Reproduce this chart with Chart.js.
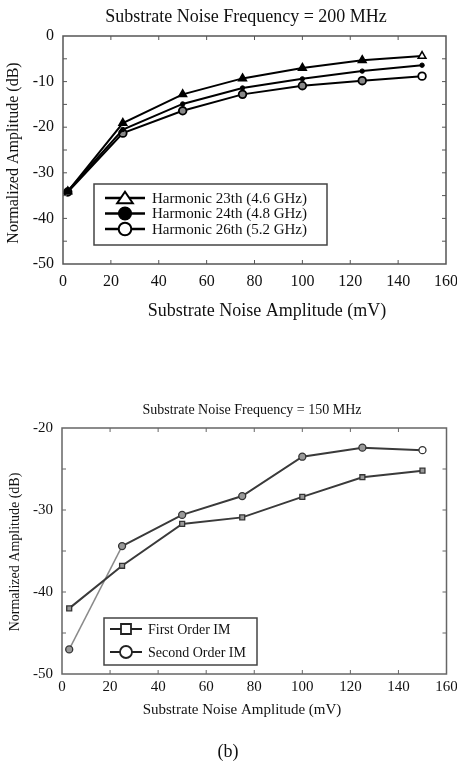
<!DOCTYPE html>
<html>
<head>
<meta charset="utf-8">
<script src="https://cdn.jsdelivr.net/npm/chart.js@4/dist/chart.umd.min.js"></script>
<style>
  html, body { margin: 0; padding: 0; background: #fff; }
  body { width: 457px; height: 767px; position: relative; overflow: hidden; }
  canvas { position: absolute; left: 0; }
  #ca { top: 0; }
  #cb { top: 380px; }
</style>
</head>
<body>
<canvas id="ca" width="457" height="340"></canvas>
<canvas id="cb" width="457" height="387"></canvas>
<script>
// ---------- data ----------
const xTickLabels = [0, 20, 40, 60, 80, 100, 120, 140, 160];

// Chart (a): Substrate Noise Frequency = 200 MHz
const amplitudeA = [2, 25, 50, 75, 100, 125, 150];
const harmonic23 = [-34.1, -19.1, -12.8, -9.3, -7.0, -5.3, -4.4];
const harmonic24 = [-34.0, -20.5, -14.9, -11.4, -9.4, -7.7, -6.4];
const harmonic26 = [-34.2, -21.3, -16.4, -12.8, -10.9, -9.8, -8.8];
const yTickLabelsA = [0, -10, -20, -30, -40, -50];
const seriesNamesA = ['Harmonic 23th (4.6 GHz)', 'Harmonic 24th (4.8 GHz)', 'Harmonic 26th (5.2 GHz)'];

// Chart (b): Substrate Noise Frequency = 150 MHz
const amplitudeB = [3, 25, 50, 75, 100, 125, 150];
const firstOrderIM = [-42.0, -36.8, -31.7, -30.9, -28.4, -26.0, -25.2];
const secondOrderIM = [-47.0, -34.4, -30.6, -28.3, -23.5, -22.4, -22.7];
const yTickLabelsB = [-20, -30, -40, -50];
const seriesNamesB = ['First Order IM', 'Second Order IM'];

const toPoints = (xs, ys) => xs.map((x, i) => ({ x: x, y: ys[i] }));
const SERIF = "'Liberation Serif', 'Times New Roman', serif";

// ---------- helpers ----------
function drawMarker(ctx, style, x, y, r, fill, stroke, lw) {
  ctx.save();
  ctx.lineWidth = lw;
  ctx.strokeStyle = stroke;
  ctx.fillStyle = fill;
  ctx.beginPath();
  if (style === 'triangle') {
    const h = r * 1.9;
    ctx.moveTo(x, y - h * 0.55);
    ctx.lineTo(x + r * 1.3, y + h * 0.45);
    ctx.lineTo(x - r * 1.3, y + h * 0.45);
    ctx.closePath();
  } else if (style === 'rect') {
    ctx.rect(x - r, y - r, 2 * r, 2 * r);
  } else {
    ctx.arc(x, y, r, 0, Math.PI * 2);
  }
  ctx.fill();
  ctx.stroke();
  ctx.restore();
}

function makeDecor(cfg) {
  return {
    id: 'decor_' + cfg.key,
    afterDraw(chart) {
      const ctx = chart.ctx;
      const a = chart.chartArea;
      const xs = chart.scales.x, ys = chart.scales.y;
      ctx.save();
      // frame
      ctx.strokeStyle = cfg.frameColor;
      ctx.lineWidth = 1.5;
      ctx.strokeRect(a.left, a.top, a.right - a.left, a.bottom - a.top);
      // inward tick marks
      ctx.lineWidth = 1;
      ctx.beginPath();
      xs.ticks.forEach(t => {
        const px = xs.getPixelForValue(t.value);
        if (px <= a.left + 1 || px >= a.right - 1) return;
        ctx.moveTo(px, a.bottom); ctx.lineTo(px, a.bottom - 4);
        ctx.moveTo(px, a.top); ctx.lineTo(px, a.top + 4);
      });
      ys.ticks.forEach(t => {
        const py = ys.getPixelForValue(t.value);
        if (py <= a.top + 1 || py >= a.bottom - 1) return;
        ctx.moveTo(a.left, py); ctx.lineTo(a.left + 4, py);
        ctx.moveTo(a.right, py); ctx.lineTo(a.right - 4, py);
      });
      ctx.stroke();

      // texts
      ctx.fillStyle = '#111';
      ctx.textAlign = 'center';
      ctx.textBaseline = 'alphabetic';
      ctx.font = cfg.titleFont;
      ctx.fillText(cfg.title, cfg.titleX, cfg.titleY);
      ctx.font = cfg.xTitleFont;
      ctx.fillText(cfg.xTitle, cfg.xTitleX, cfg.xTitleY);
      ctx.font = cfg.captionFont;
      ctx.textBaseline = 'middle';
      ctx.fillText(cfg.caption, cfg.captionX, cfg.captionY);
      ctx.save();
      ctx.translate(cfg.yTitleX, cfg.yTitleY);
      ctx.rotate(-Math.PI / 2);
      ctx.font = cfg.yTitleFont;
      ctx.textBaseline = 'middle';
      ctx.fillText(cfg.yTitle, 0, 0);
      ctx.restore();

      // legend box
      const L = cfg.legend;
      ctx.fillStyle = '#fff';
      ctx.fillRect(L.x, L.y, L.w, L.h);
      ctx.strokeStyle = '#444';
      ctx.lineWidth = 1.5;
      ctx.strokeRect(L.x, L.y, L.w, L.h);
      chart.data.datasets.forEach((ds, i) => {
        const ry = L.rowY[i];
        ctx.strokeStyle = L.lineColor;
        ctx.lineWidth = L.lineWidth;
        ctx.beginPath();
        ctx.moveTo(L.lineX0, ry); ctx.lineTo(L.lineX1, ry);
        ctx.stroke();
        const m = L.markers[i];
        drawMarker(ctx, m.style, (L.lineX0 + L.lineX1) / 2, ry, m.r, m.fill, L.lineColor, m.lw);
        ctx.fillStyle = '#111';
        ctx.textAlign = 'left';
        ctx.textBaseline = 'middle';
        ctx.font = L.font;
        ctx.fillText(ds.label, L.textX, ry + 1);
      });
      ctx.restore();
    }
  };
}

function baseOptions(o) {
  return {
    responsive: false,
    animation: false,
    devicePixelRatio: 1,
    layout: { padding: { top: o.padTop, right: o.padRight, left: 0, bottom: 0 } },
    plugins: { legend: { display: false }, title: { display: false }, tooltip: { enabled: false } },
    scales: {
      x: {
        type: 'linear', min: 0, max: 160,
        afterFit(s) { s.height = o.xHeight; s.paddingLeft = 0; s.paddingRight = 0; },
        grid: { display: false, drawTicks: false },
        border: { display: false },
        ticks: {
          stepSize: 20, autoSkip: false, padding: o.xPad, color: '#111',
          font: { family: SERIF, size: o.tickSize },
          callback: v => xTickLabels.includes(v) ? String(v) : ''
        }
      },
      y: {
        type: 'linear', min: o.yMin, max: o.yMax,
        afterFit(s) { s.width = o.yWidth; s.paddingTop = 0; s.paddingBottom = 0; },
        grid: { display: false, drawTicks: false },
        border: { display: false },
        ticks: {
          stepSize: 5, autoSkip: false, padding: o.yPad, color: '#111',
          font: { family: SERIF, size: o.tickSize },
          callback: v => o.yLabels.includes(v) ? String(v) : ''
        }
      }
    }
  };
}

// ---------- chart (a) ----------
const lastIdx = amplitudeA.length - 1;
new Chart(document.getElementById('ca'), {
  type: 'line',
  data: {
    datasets: [
      {
        label: seriesNamesA[0], data: toPoints(amplitudeA, harmonic23),
        borderColor: '#000', borderWidth: 2, pointStyle: 'triangle', pointRadius: 4.5,
        pointBorderColor: '#000', pointBorderWidth: 1.5,
        pointBackgroundColor: c => c.dataIndex === lastIdx ? '#fff' : '#000'
      },
      {
        label: seriesNamesA[1], data: toPoints(amplitudeA, harmonic24),
        borderColor: '#000', borderWidth: 2, pointStyle: 'circle', pointRadius: 2.2,
        pointBorderColor: '#000', pointBackgroundColor: '#000', pointBorderWidth: 1
      },
      {
        label: seriesNamesA[2], data: toPoints(amplitudeA, harmonic26),
        borderColor: '#000', borderWidth: 2, pointStyle: 'circle', pointRadius: 3.8,
        pointBorderColor: '#000', pointBorderWidth: 1.8,
        pointBackgroundColor: c => c.dataIndex === lastIdx ? '#fff' : '#888'
      }
    ]
  },
  options: baseOptions({
    padTop: 36, padRight: 11, xHeight: 76, yWidth: 63, xPad: 8, yPad: 9,
    tickSize: 16, yMin: -50, yMax: 0, yLabels: yTickLabelsA
  }),
  plugins: [makeDecor({
    key: 'a', frameColor: '#555',
    title: 'Substrate Noise Frequency = 200 MHz', titleFont: '18px ' + SERIF, titleX: 246, titleY: 22,
    xTitle: 'Substrate Noise Amplitude (mV)', xTitleFont: '18px ' + SERIF, xTitleX: 267, xTitleY: 316,
    yTitle: 'Normalized Amplitude (dB)', yTitleFont: '16px ' + SERIF, yTitleX: 14, yTitleY: 153,
    caption: '(a)', captionFont: '18px ' + SERIF, captionX: 228, captionY: 356,
    legend: {
      x: 94, y: 184, w: 233, h: 61, rowY: [198, 213.5, 229],
      lineX0: 105, lineX1: 145, lineColor: '#000', lineWidth: 2.5, textX: 152,
      font: '15px ' + SERIF,
      markers: [
        { style: 'triangle', r: 6, fill: '#fff', lw: 2 },
        { style: 'circle', r: 6.3, fill: '#000', lw: 1.5 },
        { style: 'circle', r: 6.3, fill: '#fff', lw: 2 }
      ]
    }
  })]
});

// ---------- chart (b) ----------
new Chart(document.getElementById('cb'), {
  type: 'line',
  data: {
    datasets: [
      {
        label: seriesNamesB[0], data: toPoints(amplitudeB, firstOrderIM),
        borderColor: '#3a3a3a', borderWidth: 2, pointStyle: 'rect', pointRadius: 3.5,
        pointBorderColor: '#333', pointBackgroundColor: '#999', pointBorderWidth: 1.3
      },
      {
        label: seriesNamesB[1], data: toPoints(amplitudeB, secondOrderIM),
        borderColor: '#3a3a3a', borderWidth: 2, pointStyle: 'circle', pointRadius: 3.5,
        pointBorderColor: '#333', pointBorderWidth: 1.3,
        pointBackgroundColor: c => c.dataIndex === amplitudeB.length - 1 ? '#fff' : '#999',
        segment: {
          borderColor: c => c.p0DataIndex === 0 ? '#8a8a8a' : '#3a3a3a',
          borderWidth: c => c.p0DataIndex === 0 ? 1.5 : 2
        }
      }
    ]
  },
  options: baseOptions({
    padTop: 48, padRight: 10.5, xHeight: 93, yWidth: 62, xPad: 4, yPad: 9,
    tickSize: 15, yMin: -50, yMax: -20, yLabels: yTickLabelsB
  }),
  plugins: [makeDecor({
    key: 'b', frameColor: '#666',
    title: 'Substrate Noise Frequency = 150 MHz', titleFont: '14px ' + SERIF, titleX: 252, titleY: 34,
    xTitle: 'Substrate Noise Amplitude (mV)', xTitleFont: '15px ' + SERIF, xTitleX: 242, xTitleY: 334,
    yTitle: 'Normalized Amplitude (dB)', yTitleFont: '14px ' + SERIF, yTitleX: 15, yTitleY: 172,
    caption: '(b)', captionFont: '18px ' + SERIF, captionX: 228, captionY: 372,
    legend: {
      x: 104, y: 238, w: 153, h: 47, rowY: [249, 272],
      lineX0: 110, lineX1: 142, lineColor: '#222', lineWidth: 2, textX: 148,
      font: '14px ' + SERIF,
      markers: [
        { style: 'rect', r: 5, fill: '#fff', lw: 1.8 },
        { style: 'circle', r: 6, fill: '#fff', lw: 1.8 }
      ]
    }
  })]
});
</script>
</body>
</html>
